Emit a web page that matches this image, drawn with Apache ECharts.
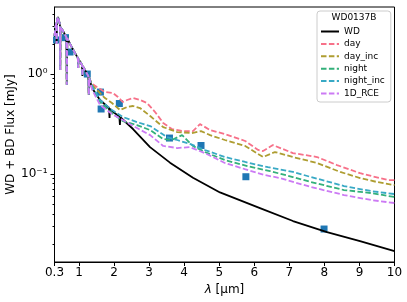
<!DOCTYPE html>
<html><head><meta charset="utf-8">
<script src="https://cdn.jsdelivr.net/npm/echarts@6/dist/echarts.min.js"></script>
<style>html,body{margin:0;padding:0;background:#fff}#c{width:407px;height:302px}</style>
</head><body><div id="c"></div>
<script>
// Shared short-wavelength part (WD dominated, Balmer/Paschen lines)
const blueSpec = [[0.300,2.40],[0.329,2.95],[0.354,3.24],[0.362,2.00],[0.371,3.47],[0.400,3.72],[0.437,3.31],[0.454,3.16],[0.463,1.10],[0.471,2.95],[0.543,2.69],[0.637,2.34],[0.651,0.78],[0.665,2.29],[0.742,2.00],[0.885,1.62],[0.965,1.45],[0.976,1.15],[0.988,1.41],[1.085,1.23],[1.096,0.955],[1.107,1.20],[1.199,1.05],[1.264,0.955],[1.279,0.617],[1.293,0.912]];
const wdFlux = [[1.370,0.724],[1.598,0.550],[1.855,0.457],[1.870,0.363],[1.885,0.450],[1.940,0.427],[2.150,0.375],[2.166,0.309],[2.180,0.370],[2.540,0.282],[3.025,0.186],[3.595,0.130],[4.251,0.0920],[5.021,0.0655],[6.162,0.0457],[7.104,0.0339],[8.074,0.0263],[9.016,0.0214],[10.0,0.0170]];
const dayFlux = [[1.37,0.80],[1.51,0.741],[1.74,0.661],[1.97,0.646],[2.11,0.589],[2.25,0.525],[2.37,0.55],[2.54,0.575],[2.74,0.55],[2.94,0.513],[3.17,0.417],[3.40,0.324],[3.65,0.282],[3.94,0.269],[4.25,0.269],[4.45,0.316],[4.74,0.275],[5.16,0.251],[5.74,0.214],[6.11,0.174],[6.25,0.170],[6.53,0.195],[7.10,0.162],[7.79,0.148],[8.36,0.123],[9.02,0.102],[9.81,0.0871],[10.0,0.0871]];
const dayIncFlux = [[1.37,0.78],[1.51,0.692],[1.74,0.575],[1.94,0.513],[2.17,0.437],[2.37,0.468],[2.54,0.479],[2.74,0.457],[3.03,0.380],[3.40,0.295],[3.80,0.263],[4.22,0.257],[4.48,0.269],[4.74,0.245],[5.16,0.219],[5.74,0.191],[6.25,0.148],[6.59,0.166],[7.10,0.148],[7.79,0.129],[8.45,0.105],[9.02,0.0912],[9.50,0.0832],[10.0,0.0776]];
const nightFlux = [[1.37,0.76],[1.60,0.525],[1.94,0.407],[2.25,0.339],[2.65,0.309],[3.03,0.275],[3.40,0.224],[3.65,0.219],[3.94,0.245],[4.25,0.191],[4.59,0.166],[5.16,0.138],[5.80,0.120],[6.45,0.107],[7.10,0.0933],[7.62,0.0832],[8.56,0.0692],[9.33,0.0646],[10.0,0.0589]];
const nightIncFlux = [[1.37,0.76],[1.60,0.55],[1.94,0.437],[2.25,0.372],[2.65,0.331],[3.03,0.302],[3.51,0.234],[3.80,0.219],[4.16,0.200],[4.59,0.174],[5.16,0.148],[5.74,0.132],[6.39,0.117],[7.10,0.105],[7.62,0.0933],[8.56,0.0759],[9.33,0.0676],[10.0,0.0631]];
const rceFlux = [[1.37,0.70],[1.60,0.49],[1.94,0.398],[2.25,0.347],[2.60,0.295],[3.03,0.245],[3.40,0.191],[3.80,0.182],[4.16,0.186],[4.59,0.162],[5.16,0.129],[5.73,0.112],[6.30,0.0977],[6.73,0.0912],[7.62,0.0741],[8.56,0.0617],[9.33,0.055],[10.0,0.0513]];
const photLambda = [0.357, 0.614, 0.742, 1.235, 1.61, 1.63, 2.15, 3.58, 4.48, 5.76, 7.99];
const photFlux = [2.19, 2.31, 1.66, 1.00, 0.66, 0.447, 0.507, 0.229, 0.193, 0.094, 0.0282];
const seriesNames = ['WD','day','day_inc','night','night_inc','1D_RCE'];
const seriesColors = ['#000000','#f77189','#ae9d31','#33b07a','#38a9c5','#cc7af4'];
const xTicks = [0.3,1,2,3,4,5,6,7,8,9,10];
const yMajorTicks = [0.1, 1];
const yMinorTicks = [0.02,0.03,0.04,0.05,0.06,0.07,0.08,0.09,0.2,0.3,0.4,0.5,0.6,0.7,0.8,0.9,2,3,4];
const yTickText = {'-1':'10\u207B\u00B9','0':'10\u2070'};

const FONT = 'DejaVu Sans';
const modelData = [wdFlux, dayFlux, dayIncFlux, nightFlux, nightIncFlux, rceFlux].map(a => blueSpec.concat(a));
const series = [{
  type:'scatter', data: photLambda.map((l,i)=>[l, photFlux[i]]), symbol:'rect', symbolSize:7,
  itemStyle:{color:'#1f77b4', opacity:1}, z:1, silent:true
}];
seriesNames.forEach((n,i)=>{
  series.push({
    type:'line', name:n, data:modelData[i], symbol:'none', showSymbol:false, smooth:false,
    itemStyle:{color:seriesColors[i]},
    lineStyle:{color:seriesColors[i], width: 1.8, type: i===0?'solid':[5.5,2.4]},
    z:2+i
  });
});
const yBase = {type:'log', logBase:10, min:0.0132, max:4.68, position:'left', splitLine:{show:false}};
const chart = echarts.init(document.getElementById('c'), null, {renderer:'canvas'});
chart.setOption({
  animation:false,
  backgroundColor:'#fff',
  textStyle:{fontFamily:FONT},
  grid:{left:54.5, right:12.5, top:7, bottom:40, show:true, borderColor:'#000', borderWidth:1, backgroundColor:'transparent',
    containLabel:false, outerBoundsMode:'none'},
  xAxis:{type:'value', min:0.3, max:10,
    axisLine:{show:true, onZero:false, lineStyle:{color:'#000', width:1}},
    axisTick:{show:true, length:4, customValues:xTicks, lineStyle:{color:'#000'}},
    axisLabel:{customValues:xTicks, color:'#000', fontSize:12, fontFamily:FONT, margin:5, formatter:v=>String(Math.round(v*10)/10)},
    splitLine:{show:false},
    name:'{i|\u03BB} [\u03BCm]', nameLocation:'middle', nameGap:18,
    nameTextStyle:{color:'#000', fontSize:12, fontFamily:FONT, rich:{i:{fontStyle:'italic', fontSize:12, fontFamily:FONT, color:'#000'}}}
  },
  yAxis:[Object.assign({}, yBase, {
    axisLine:{show:true, lineStyle:{color:'#000', width:1}},
    axisTick:{show:true, length:4, customValues:yMajorTicks, lineStyle:{color:'#000'}},
    axisLabel:{customValues:yMajorTicks, color:'#000', fontSize:12, fontFamily:FONT, margin:7,
      formatter:v=>yTickText[String(Math.round(Math.log10(v)))] || ''},
    name:'WD + BD Flux [mJy]', nameLocation:'middle', nameGap:38, nameMoveOverlap:false,
    nameTextStyle:{color:'#000', fontSize:12, fontFamily:FONT}
  }), Object.assign({}, yBase, {
    axisLine:{show:false},
    axisTick:{show:true, length:2, customValues:yMinorTicks, lineStyle:{color:'#000'}},
    axisLabel:{show:false}
  })],
  legend:{
    data:seriesNames, orient:'vertical', left:317, top:11,
    padding:[16,6,4,3], itemWidth:18, itemHeight:10, itemGap:3.4,
    borderColor:'#cccccc', borderWidth:1, borderRadius:3, backgroundColor:'rgba(255,255,255,0.8)',
    itemStyle:{opacity:0},
    textStyle:{fontSize:9, color:'#000', fontFamily:FONT},
    selectedMode:false
  },
  graphic:[{type:'text', x:354, y:18, z:100,
    style:{text:'WD0137B', font:'9px "DejaVu Sans"', fill:'#000', align:'center', verticalAlign:'middle', textAlign:'center', textVerticalAlign:'middle'}}],
  series: series
});
</script></body></html>
